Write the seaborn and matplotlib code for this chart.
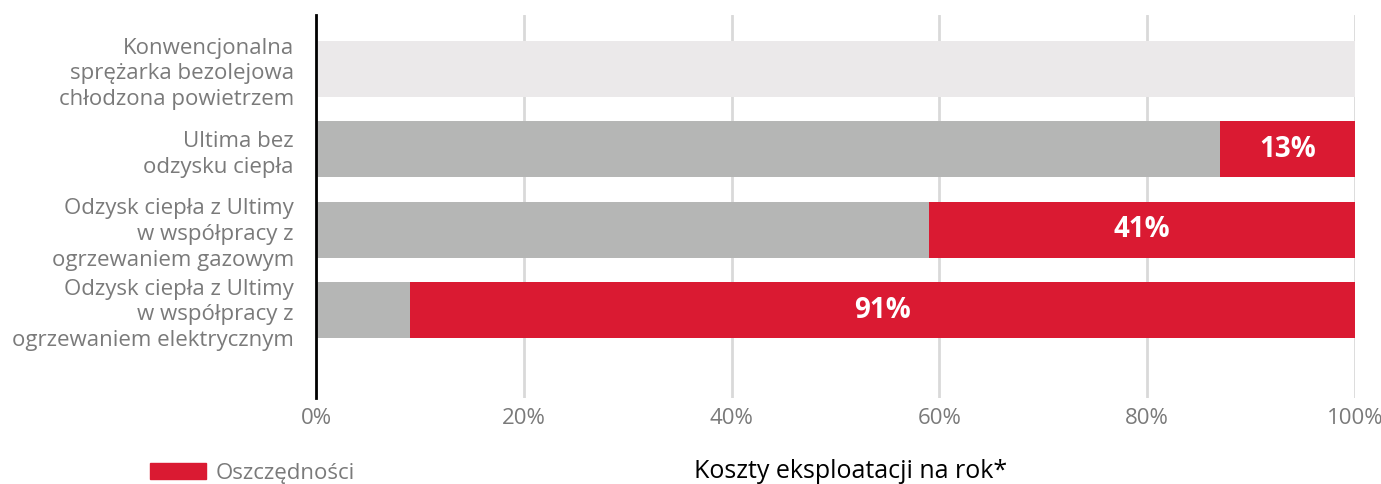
import seaborn as sns
import matplotlib.pyplot as plt
import pandas as pd
from matplotlib.patches import Patch

# --- data ---
categories = [
    "Konwencjonalna\nsprężarka bezolejowa\nchłodzona powietrzem",
    "Ultima bez\nodzysku ciepła",
    "Odzysk ciepła z Ultimy\nw współpracy z\nogrzewaniem gazowym",
    "Odzysk ciepła z Ultimy\nw współpracy z\nogrzewaniem elektrycznym",
]
savings = [0, 13, 41, 91]
costs = [100, 87, 59, 9]
totals = [100, 100, 100, 100]
x_ticks = [0, 20, 40, 60, 80, 100]
x_ticklabels = ["0%", "20%", "40%", "60%", "80%", "100%"]

RED = "#DA1A32"
GRAY = "#B5B6B5"
LIGHT = "#EBE9EA"
TXT = "#7a7a7a"

df = pd.DataFrame({"cat": categories, "total": totals, "cost": costs, "saving": savings})

sns.set_style("white")
plt.rcParams["font.family"] = ["Open Sans", "DejaVu Sans"]

fig = plt.figure(figsize=(13.81, 4.84), dpi=100)
ax = fig.add_axes([316 / 1381, 1 - 398 / 484, (1355 - 316) / 1381, (398 - 15) / 484])

# savings layer (full width), then cost layer on top
sns.barplot(data=df, y="cat", x="total", color=RED, width=0.7, ax=ax,
            orient="h", saturation=1, zorder=2, linewidth=0)
sns.barplot(data=df, y="cat", x="cost", hue="cat", palette=[LIGHT, GRAY, GRAY, GRAY],
            legend=False, width=0.7, ax=ax, orient="h", saturation=1, zorder=3,
            linewidth=0)

for i, (c, s) in enumerate(zip(costs, savings)):
    if s > 0:
        ax.text(c + s / 2, i, f"{s}%", color="white", fontsize=20, fontweight="bold",
                ha="center", va="center", zorder=4)

ax.set_xlim(0, 100)
ax.set_ylim(4.095, -0.672)
ax.set_xticks(x_ticks)
ax.set_xticklabels(x_ticklabels)
ax.set_xlabel("")
ax.set_ylabel("")
ax.tick_params(axis="both", length=0, colors=TXT, labelsize=16)
ax.tick_params(axis="y", pad=16)
ax.tick_params(axis="x", pad=7)
for lbl in ax.get_yticklabels():
    lbl.set_horizontalalignment("right")
    lbl.set_linespacing(1.3)

ax.grid(axis="x", color="#d9d9d9", linewidth=2, zorder=0)
ax.set_axisbelow(True)
for side in ["top", "right", "bottom"]:
    ax.spines[side].set_visible(False)
ax.spines["left"].set_color("black")
ax.spines["left"].set_linewidth(2)
ax.spines["left"].set_zorder(5)

fig.legend(handles=[Patch(color=RED, label="Oszczędności")], loc="lower left",
           bbox_to_anchor=(130 / 1381, -20 / 484), frameon=False, fontsize=16,
           handlelength=2.5, handleheight=0.75, handletextpad=0.45, labelcolor=TXT)

fig.text(851 / 1381, 0 / 484, "Koszty eksploatacji na rok*", ha="center", va="bottom",
         fontsize=18, color="black")

fig.savefig("out.png", dpi=100)
